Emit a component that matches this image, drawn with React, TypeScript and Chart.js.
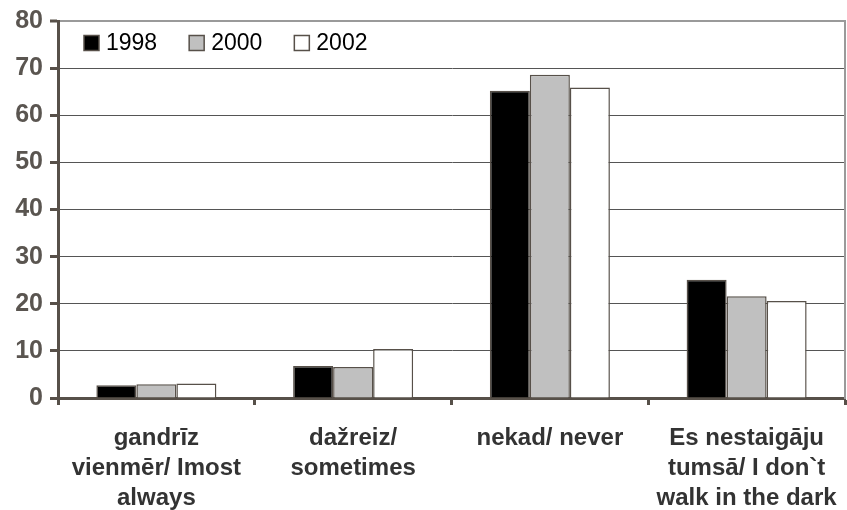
import React, { useEffect, useRef } from "react";
import { Chart, registerables } from "chart.js";

Chart.register(...registerables);

const categories: string[][] = [
  ["gandrīz", "vienmēr/ Imost", "always"],
  ["dažreiz/", "sometimes"],
  ["nekad/ never"],
  ["Es nestaigāju", "tumsā/ I don`t", "walk in the dark"],
];
const seriesNames = ["1998", "2000", "2002"];
const values1998 = [2.7, 6.8, 65.2, 25.1];
const values2000 = [2.9, 6.6, 68.6, 21.6];
const values2002 = [3.1, 10.4, 65.9, 20.6];
const seriesColors = ["#000000", "#c0c0c0", "#ffffff"];
const yTicks = [0, 10, 20, 30, 40, 50, 60, 70, 80];

const AXIS = "#575049";

const legendPlugin = {
  id: "innerLegend",
  afterDraw(chart: any) {
    const { ctx, chartArea } = chart;
    ctx.save();
    ctx.font = "23px 'Liberation Sans', Arial, sans-serif";
    ctx.textBaseline = "middle";
    let x = chartArea.left + 26;
    const cy = chartArea.top + 22;
    chart.data.datasets.forEach((ds: any) => {
      ctx.fillStyle = ds.backgroundColor;
      ctx.fillRect(x, cy - 7.5, 15, 15);
      ctx.strokeStyle = AXIS;
      ctx.lineWidth = 1.5;
      ctx.strokeRect(x, cy - 7.5, 15, 15);
      ctx.fillStyle = "#000";
      ctx.fillText(ds.label, x + 22, cy + 1);
      const w = ctx.measureText(ds.label).width;
      x += 22 + w + 32;
    });
    ctx.restore();
  },
};

export default function App() {
  const ref = useRef<HTMLCanvasElement | null>(null);
  useEffect(() => {
    if (!ref.current) return;
    const seriesValues = [values1998, values2000, values2002];
    const chart = new Chart(ref.current, {
      type: "bar",
      data: {
        labels: categories,
        datasets: seriesNames.map((name, i) => ({
          label: name,
          data: seriesValues[i],
          backgroundColor: seriesColors[i],
          borderColor: AXIS,
          borderWidth: 1.5,
          categoryPercentage: 0.61,
          barPercentage: 1,
        })),
      },
      options: {
        animation: false,
        responsive: false,
        maintainAspectRatio: false,
        layout: { padding: { top: 21, right: 2, left: 0, bottom: 0 } },
        plugins: { legend: { display: false }, tooltip: { enabled: false } },
        scales: {
          x: {
            grid: {
              offset: true,
              drawOnChartArea: false,
              tickLength: 7,
              tickWidth: 3,
              tickColor: AXIS,
            },
            border: { color: AXIS, width: 3 },
            ticks: {
              color: "#333333",
              padding: 18,
              maxRotation: 0,
              autoSkip: false,
              font: { family: "'Liberation Sans', Arial, sans-serif", size: 24, weight: "bold", lineHeight: 1.25 },
            },
            afterFit: (s: any) => {
              s.height = 112;
              s.paddingLeft = 0;
              s.paddingRight = 0;
            },
          },
          y: {
            min: 0,
            max: 80,
            afterBuildTicks: (s: any) => { s.ticks = yTicks.map((v) => ({ value: v })); },
            grid: {
              color: (c: any) => (c.tick && c.tick.value === 80 ? "#9a9a9a" : "#555555"),
              lineWidth: (c: any) => (c.tick && c.tick.value === 80 ? 2 : 1),
              tickLength: 8,
              tickWidth: 3,
              tickColor: AXIS,
            },
            border: { color: AXIS, width: 3 },
            ticks: {
              color: "#5a5550",
              padding: 7,
              font: { family: "'Liberation Sans', Arial, sans-serif", size: 25, weight: "bold" },
            },
            afterFit: (s: any) => {
              s.width = 58;
              s.paddingTop = 0;
              s.paddingBottom = 0;
            },
          },
          y2: {
            position: "right",
            min: 0,
            max: 80,
            grid: { display: false },
            ticks: { display: false },
            border: { color: "#9a9a9a", width: 2 },
            afterFit: (s: any) => { s.width = 0; },
          },
        },
      },
      plugins: [legendPlugin],
    } as any);
    return () => chart.destroy();
  }, []);
  return (
    <div style={{ position: "absolute", left: 0, top: 0, width: 847, height: 510, background: "#fff" }}>
      <canvas ref={ref} width={847} height={510} style={{ display: "block", width: 847, height: 510 }} />
    </div>
  );
}
